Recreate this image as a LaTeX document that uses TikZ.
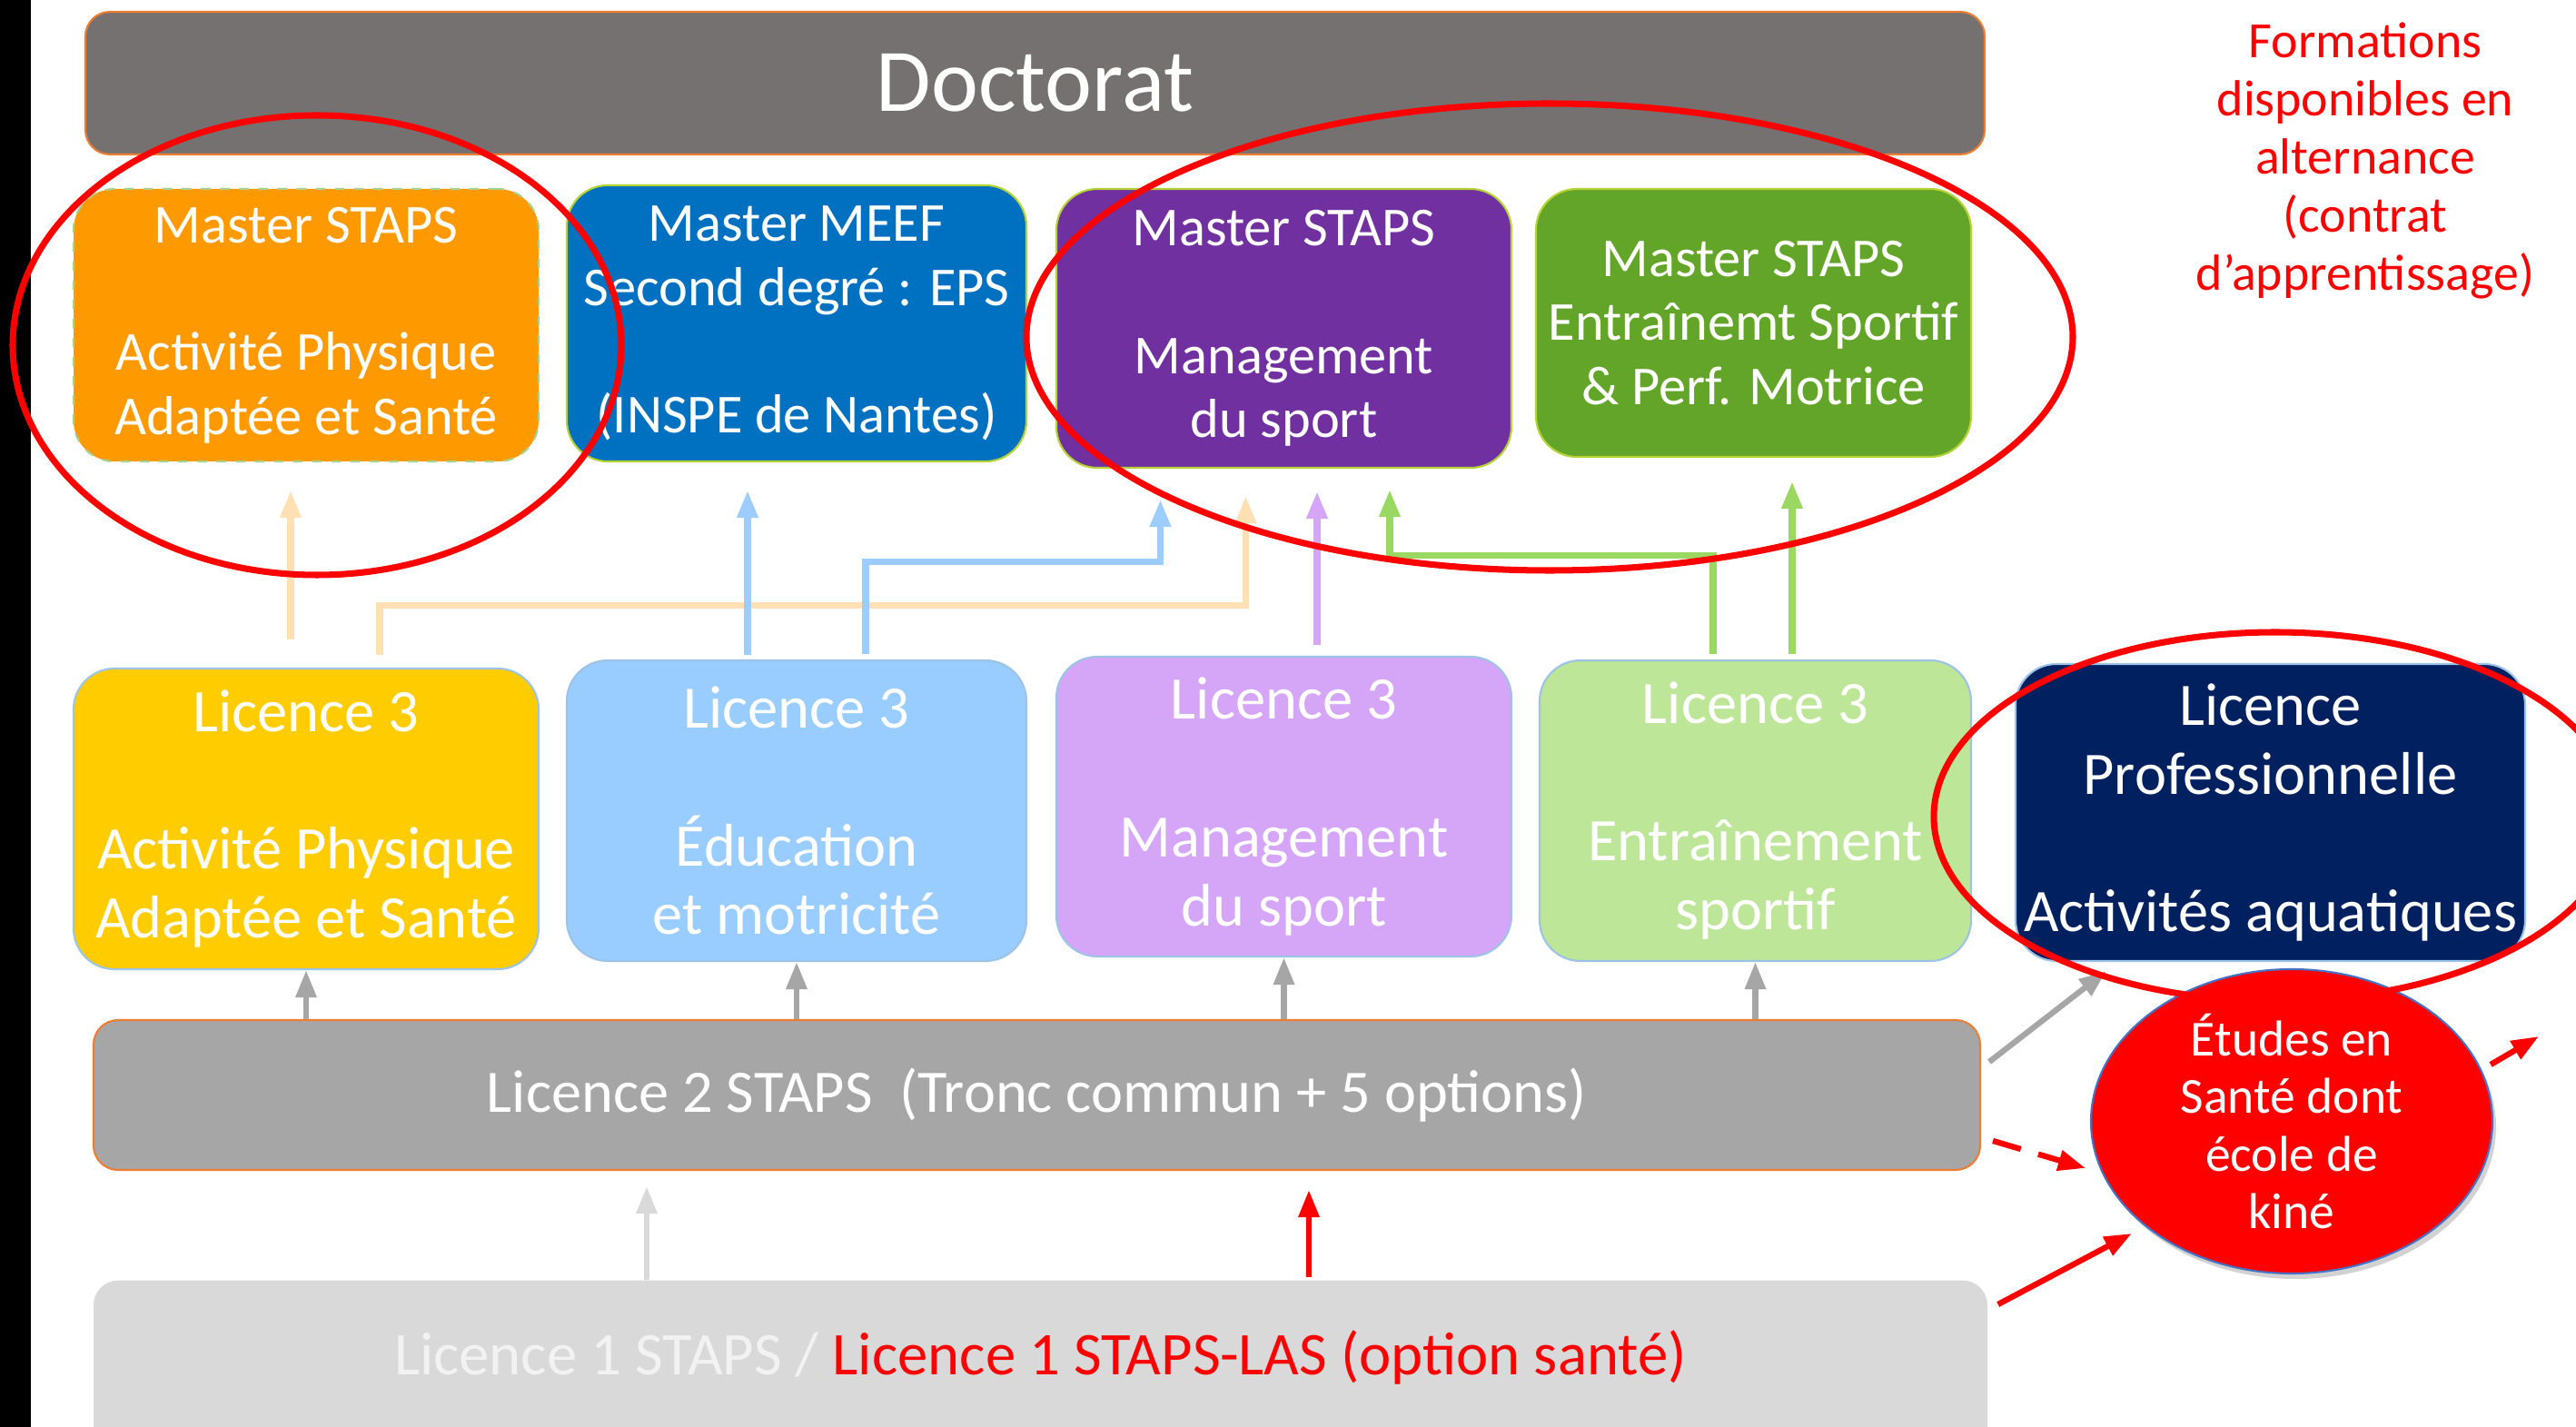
\documentclass[tikz,border=0pt]{standalone}
\usepackage{fontspec}
\setmainfont{Carlito}
\usetikzlibrary{arrows.meta,shapes.geometric,shadows}

\definecolor{doctgray}{HTML}{767171}
\definecolor{edgeorange}{HTML}{ED7D31}
\definecolor{apasorange}{HTML}{FF9900}
\definecolor{meefblue}{HTML}{0070C0}
\definecolor{mspurple}{HTML}{7030A0}
\definecolor{esgreen}{HTML}{63A528}
\definecolor{mborder}{HTML}{B5D334}
\definecolor{dashgreen}{HTML}{A9D18E}
\definecolor{apasyellow}{HTML}{FFCC00}
\definecolor{emblue}{HTML}{99CCFF}
\definecolor{mslav}{HTML}{D5A6F7}
\definecolor{eslgreen}{HTML}{BDE698}
\definecolor{pronavy}{HTML}{002060}
\definecolor{lborder}{HTML}{9DC3E6}
\definecolor{ltwogray}{HTML}{A6A6A6}
\definecolor{lonegray}{HTML}{D9D9D9}
\definecolor{peach}{HTML}{FFE0B5}
\definecolor{lblue}{HTML}{9DCCFF}
\definecolor{lgreen}{HTML}{9BD861}
\definecolor{santeblue}{HTML}{4472C4}
\definecolor{faintwhite}{HTML}{F2F2F2}

\begin{document}
\begin{tikzpicture}[>={Triangle[length=0.3cm,width=0.22cm]},
  box/.style={rectangle,rounded corners=0.45cm,inner sep=0pt,align=center,text=white,
    font=\fontsize{17.2}{20}\selectfont},
  mbox/.style={box,draw=mborder,line width=0.6pt},
  lbox/.style={box,draw=lborder,line width=0.6pt,font=\fontsize{18.9}{21.6}\selectfont},
  barbox/.style={rectangle,rounded corners=0.27cm,inner sep=0pt,align=center,text=white,
    font=\fontsize{18.9}{21.6}\selectfont},
  link/.style={->,line width=2pt},
  uparrow/.style={->,line width=1.8pt,draw=ltwogray},
  redarrow/.style={->,line width=1.8pt,draw=red},
  redring/.style={draw=red,line width=2pt}]
         \useasboundingbox (0,0) rectangle (28.36,-15.71) ;
         \fill[white] (0,0) rectangle (28.36,-15.71) ;
         \fill[black] (0,0) rectangle (0.34,-15.71) ;
         % Doctorat
         \node[barbox,fill=doctgray,draw=edgeorange,line width=0.6pt,minimum width=20.91cm,minimum height=1.57cm,
           font=\fontsize{28}{34}\selectfont] (doct) at (11.395,-0.915) {Doctorat} ;
         % masters
         \node[box,fill=apasorange,draw=dashgreen,line width=0.6pt,dashed,minimum width=5.12cm,minimum height=3.00cm]
           (mAPAS) at (3.37,-3.58) {Master STAPS\\~\\Activité Physique\\Adaptée et Santé} ;
         \node[mbox,fill=meefblue,minimum width=5.06cm,minimum height=3.04cm]
           (mMEEF) at (8.77,-3.56) {Master MEEF\\Second degré : EPS\\~\\(INSPE de Nantes)} ;
         \node[mbox,fill=mspurple,minimum width=5.01cm,minimum height=3.07cm]
           (mMS) at (14.135,-3.615) {Master STAPS\\~\\Management\\du sport} ;
         \node[mbox,fill=esgreen,minimum width=4.79cm,minimum height=2.95cm]
           (mES) at (19.305,-3.555) {Master STAPS\\Entraînemt Sportif\\\& Perf. Motrice} ;
         % licences 3
         \node[lbox,fill=apasyellow,minimum width=5.12cm,minimum height=3.31cm]
           (lAPAS) at (3.37,-9.015) {Licence 3\\~\\Activité Physique\\Adaptée et Santé} ;
         \node[lbox,fill=emblue,minimum width=5.06cm,minimum height=3.31cm]
           (lEM) at (8.77,-8.925) {Licence 3\\~\\Éducation\\et motricité} ;
         \node[lbox,fill=mslav,minimum width=5.01cm,minimum height=3.30cm]
           (lMS) at (14.135,-8.88) {Licence 3\\~\\Management\\du sport} ;
         \node[lbox,fill=eslgreen,minimum width=4.75cm,minimum height=3.31cm]
           (lES) at (19.325,-8.925) {Licence 3\\~\\Entraînement\\sportif} ;
         \node[lbox,fill=pronavy,minimum width=5.61cm,minimum height=3.27cm]
           (lPro) at (24.995,-8.945) {Licence\\Professionnelle\\~\\Activités aquatiques} ;
         % licences 1 et 2
         \node[barbox,fill=ltwogray,draw=edgeorange,line width=0.6pt,minimum width=20.77cm,minimum height=1.65cm]
           (l2) at (11.415,-12.055) {Licence 2 STAPS\ \ (Tronc commun + 5 options)} ;
         \node[barbox,fill=lonegray,minimum width=20.85cm,minimum height=2.2cm,anchor=north]
           (l1) at (11.455,-14.09) {} ;
         \node[barbox,text=faintwhite,font=\fontsize{19}{22}\selectfont] (l1txt) at (11.455,-14.94)
           {Licence 1 STAPS / \textcolor{red}{Licence 1 STAPS-LAS (option santé)}} ;
         % santé
         \node[ellipse,fill=red,draw=santeblue,line width=0.6pt,minimum width=4.42cm,minimum height=3.35cm,
           inner sep=-0.25cm,align=center,text=white,font=\fontsize{15.8}{18}\selectfont,
           drop shadow={shadow xshift=0.04cm,shadow yshift=-0.06cm,opacity=0.35}]
           (sante) at (25.23,-12.345) {Études en\\Santé dont\\école de\\kiné} ;
         \node[align=center,text=red,font=\fontsize{15.9}{18.2}\selectfont] (alt) at (26.04,-1.77)
           {Formations\\disponibles en\\alternance\\(contrat\\d’apprentissage)} ;
         % L3 -> masters
         \draw[link,draw=peach,shorten <=0.31cm,shorten >=0.31cm] ([xshift=-0.17cm]lAPAS.north) -- ([xshift=-0.17cm]mAPAS.south) ;
         \draw[link,draw=peach] ([xshift=0.81cm,yshift=0.14cm]lAPAS.north) |- ([xshift=-0.42cm,yshift=-1.50cm]mMS.south)
           -- ([xshift=-0.42cm,yshift=-0.30cm]mMS.south) ;
         \draw[link,draw=lblue,shorten <=0.05cm,shorten >=0.31cm] ([xshift=-0.54cm]lEM.north) -- ([xshift=-0.54cm]mMEEF.south) ;
         \draw[link,draw=lblue] ([xshift=0.76cm,yshift=0.06cm]lEM.north) |- ([xshift=-1.36cm,yshift=-1.02cm]mMS.south)
           -- ([xshift=-1.36cm,yshift=-0.34cm]mMS.south) ;
         \draw[link,draw=mslav,shorten <=0.12cm,shorten >=0.25cm] ([xshift=0.365cm]lMS.north) -- ([xshift=0.365cm]mMS.south) ;
         \draw[link,draw=lgreen] ([xshift=-0.465cm,yshift=0.06cm]lES.north) |- ([xshift=1.165cm,yshift=-0.95cm]mMS.south)
           -- ([xshift=1.165cm,yshift=-0.23cm]mMS.south) ;
         \draw[link,draw=lgreen,shorten <=0.06cm,shorten >=0.26cm] ([xshift=0.405cm]lES.north) -- ([xshift=0.425cm]mES.south) ;
         % L2 -> L3
         \foreach \n in {lAPAS,lEM,lMS,lES}
           \draw[uparrow] (l2.north -| \n.south) -- (\n.south) ;
         \draw[uparrow] ([xshift=0.09cm,yshift=0.365cm]l2.east) -- ([xshift=1.01cm,yshift=-0.10cm]lPro.south west) ;
         % L1 -> L2, santé
         \draw[uparrow,draw=lonegray,shorten >=0.17cm] ([xshift=-4.335cm]l1.north) -- ([xshift=-4.295cm]l2.south) ;
         \draw[redarrow,shorten <=0.03cm,shorten >=0.21cm] ([xshift=2.955cm]l1.north) -- ([xshift=2.995cm]l2.south) ;
         \draw[redarrow,dash pattern=on 0.32cm off 0.2cm] ([xshift=0.13cm,yshift=-0.505cm]l2.east) -- ([xshift=-0.05cm,yshift=-0.515cm]sante.west) ;
         \draw[redarrow] ([xshift=0.11cm,yshift=-0.27cm]l1.north east) -- ([xshift=0.46cm,yshift=-1.235cm]sante.west) ;
         \draw[redarrow] ([xshift=-0.03cm,yshift=0.625cm]sante.east) -- ++(0.53,0.31) ;
         % alternance
         \draw[redring] (3.49,-3.80) ellipse (3.35 and 2.53) ;
         \draw[redring] (17.06,-3.71) ellipse (5.76 and 2.57) ;
         \draw[redring] (25.05,-8.99) ellipse (3.76 and 2.03) ;
       \end{tikzpicture}
\end{document}
